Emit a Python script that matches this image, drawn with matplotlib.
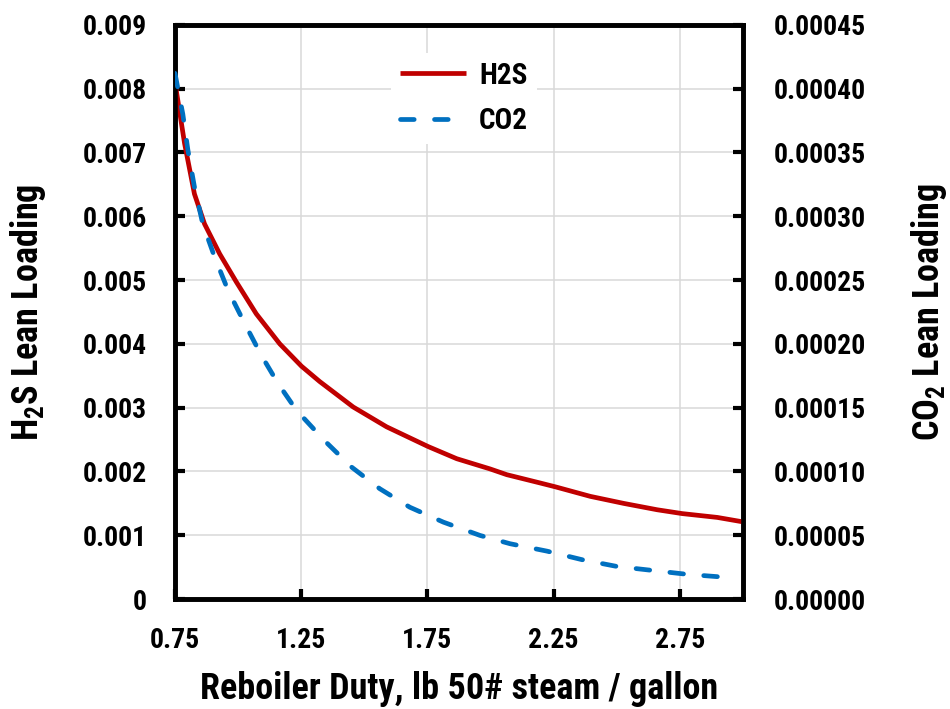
import matplotlib
matplotlib.use("Agg")
import matplotlib.pyplot as plt
from matplotlib import font_manager as fm

# ---- data ----
h2s_x = [0.750, 0.788, 0.827, 0.867, 0.927, 0.993, 1.072, 1.165, 1.251, 1.323, 1.456, 1.588,
         1.753, 1.866, 1.998, 2.064, 2.196, 2.256, 2.395, 2.527, 2.660, 2.759, 2.898, 3.000]
h2s = [0.00810, 0.00714, 0.00635, 0.00588, 0.00541, 0.00497, 0.00447, 0.00400, 0.00365,
       0.00341, 0.00301, 0.00270, 0.00239, 0.00220, 0.00204, 0.00195, 0.00182, 0.00176,
       0.00161, 0.00150, 0.00140, 0.00134, 0.00128, 0.00121]
co2_x = [0.750, 0.781, 0.801, 0.827, 0.860, 0.907, 0.960, 1.026, 1.092, 1.158, 1.231, 1.343,
         1.449, 1.561, 1.680, 1.813, 1.958, 2.077, 2.223, 2.362, 2.500, 2.640, 2.779, 2.924, 2.963]
co2 = [0.000412, 0.000380, 0.000352, 0.000323, 0.000294, 0.000268, 0.000242, 0.000216,
       0.000191, 0.000169, 0.000148, 0.000124, 0.0001035, 0.0000865, 0.0000720, 0.0000603,
       0.0000499, 0.0000434, 0.0000376, 0.0000309, 0.0000256, 0.0000225, 0.0000194,
       0.0000172, 0.0000168]
xticks = [0.75, 1.25, 1.75, 2.25, 2.75]
h2s_ticks = [0, 0.001, 0.002, 0.003, 0.004, 0.005, 0.006, 0.007, 0.008, 0.009]
h2s_labels = ["0", "0.001", "0.002", "0.003", "0.004", "0.005", "0.006", "0.007", "0.008", "0.009"]
co2_ticks = [0, 0.00005, 0.0001, 0.00015, 0.0002, 0.00025, 0.0003, 0.00035, 0.0004, 0.00045]
co2_labels = ["0.00000", "0.00005", "0.00010", "0.00015", "0.00020",
              "0.00025", "0.00030", "0.00035", "0.00040", "0.00045"]


def _bold_ok(name):
    for f in fm.fontManager.ttflist:
        if f.name == name:
            w = f.weight
            if isinstance(w, str):
                if w in ("bold", "heavy", "black", "extra bold", "semibold", "demibold"):
                    return True
            elif w >= 600:
                return True
    return False


fam = None
for c in ["Roboto Condensed", "Liberation Sans Narrow", "Archivo Narrow", "Arimo Narrow",
          "Asap Condensed", "Fira Sans Condensed", "Barlow Semi Condensed"]:
    if _bold_ok(c):
        fam = c
        break
if fam is None:
    fam = "Liberation Sans"

plt.rcParams["font.family"] = [fam, "DejaVu Sans"]
plt.rcParams["font.weight"] = "bold"
plt.rcParams["mathtext.fontset"] = "custom"
plt.rcParams["mathtext.rm"] = fam + ":bold"
plt.rcParams["mathtext.it"] = fam + ":bold"
plt.rcParams["mathtext.bf"] = fam + ":bold"
plt.rcParams["mathtext.default"] = "rm"

fig = plt.figure(figsize=(9.5, 7.09), dpi=100)
ax = fig.add_axes([0.1842, 0.155, 0.598, 0.81])
ax2 = ax.twinx()

red = "#C00000"
blue = "#0070C0"

l1, = ax.plot(h2s_x, h2s, color=red, lw=3.4, label="H2S", zorder=3,
              solid_capstyle="butt", solid_joinstyle="round")
l2, = ax2.plot(co2_x, co2, color=blue, lw=3.4, dashes=(2.9, 4.3), dash_capstyle="round",
               label="CO2", zorder=3)

ax.set_xlim(0.75, 3.0)
ax.set_ylim(0, 0.009)
ax2.set_ylim(0, 0.00045)
ax.set_xticks(xticks)
ax.set_xticklabels([f"{v:.2f}" for v in xticks])
ax.set_yticks(h2s_ticks)
ax.set_yticklabels(h2s_labels)
ax2.set_yticks(co2_ticks)
ax2.set_yticklabels(co2_labels)

ax.grid(True, color="#D9D9D9", lw=1.1, zorder=0)
ax.set_axisbelow(True)

for a in (ax, ax2):
    for s in a.spines.values():
        s.set_linewidth(3.3)
        s.set_color("black")
    a.tick_params(direction="in", length=7, width=3.0, labelsize=20)
ax.tick_params(axis="x", pad=20)
ax.tick_params(axis="y", pad=20)
ax2.tick_params(axis="y", pad=22)

ax.set_xlabel("Reboiler Duty, lb 50# steam / gallon", fontsize=26, fontweight="bold")
ax.xaxis.set_label_coords(0.5, -0.126)
ax.set_ylabel("H$_2$S Lean Loading", fontsize=26, fontweight="bold")
ax.yaxis.set_label_coords(-0.224, 0.5)
ax2.set_ylabel("CO$_2$ Lean Loading", fontsize=26, fontweight="bold")
ax2.yaxis.set_label_coords(1.292, 0.5)

leg = ax2.legend(handles=[l1, l2], loc="upper left", bbox_to_anchor=(0.381, 0.951),
                 borderaxespad=0, frameon=True, fontsize=21, handlelength=2.25,
                 handletextpad=0.45, labelspacing=0.6, borderpad=0.3)
leg.get_frame().set_facecolor("white")
leg.get_frame().set_edgecolor("none")
leg.get_frame().set_alpha(1)

fig.savefig("out.png", dpi=100)
